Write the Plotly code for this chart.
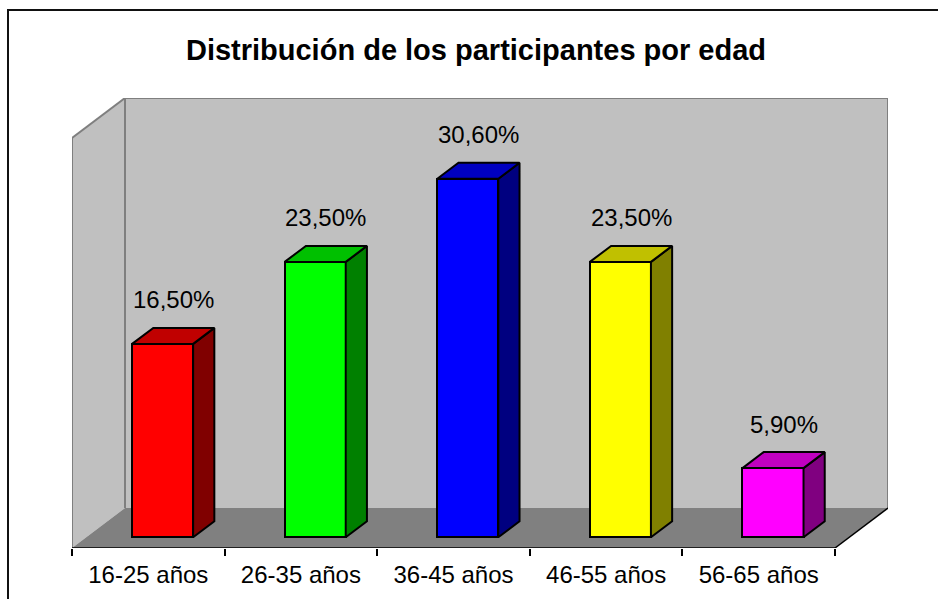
import plotly.graph_objects as go

# ---- data ----
categories = ["16-25 años", "26-35 años", "36-45 años", "46-55 años", "56-65 años"]
values = [16.5, 23.5, 30.6, 23.5, 5.9]
front_colors = ["#FF0000", "#00FF00", "#0000FF", "#FFFF00", "#FF00FF"]
side_colors = ["#800000", "#008000", "#000080", "#808000", "#800080"]
top_colors = ["#C00000", "#00C000", "#0000C0", "#C0C000", "#C000C0"]
title_text = "Distribución de los participantes por edad"

# ---- 3D projection parameters (axis units) ----
YMAX = 35.0          # value-axis maximum
DX = 0.3473          # horizontal shift for full depth (category units)
DY = 3.414           # vertical shift for full depth (value units)
BAR_W = 0.4
F0, F1 = 0.27, 0.67  # bar depth (front / back fraction)
W, H = 938, 599
ML, MR, MT, MB = 72, 50, 98, 51
PW, PH = W - ML - MR, H - MT - MB

FONT = "Liberation Sans, Arial, sans-serif"

fig = go.Figure()

# ---- walls & floor ----
n = len(categories)
x0, x1 = -0.5, n - 0.5
shapes = []
# back wall
shapes.append(dict(type="rect", xref="x", yref="y", x0=x0 + DX, x1=x1 + DX, y0=DY, y1=YMAX + DY,
                   fillcolor="#C0C0C0", line=dict(width=0), layer="below"))
# left wall
shapes.append(dict(type="path", xref="x", yref="y",
                   path=f"M{x0},{0} L{x0 + DX},{DY} L{x0 + DX},{YMAX + DY} L{x0},{YMAX} Z",
                   fillcolor="#C0C0C0", line=dict(width=0), layer="below"))
# floor
shapes.append(dict(type="path", xref="x", yref="y",
                   path=f"M{x0},{0} L{x1},{0} L{x1 + DX},{DY} L{x0 + DX},{DY} Z",
                   fillcolor="#808080", line=dict(width=0), layer="below"))
# wall edges (gray)
gray = "#7F7F7F"
for (a, b, c, d) in [
    (x0, 0, x0, YMAX),
    (x0, YMAX, x0 + DX, YMAX + DY),
    (x0 + DX, YMAX + DY, x1 + DX, YMAX + DY),
    (x1 + DX, YMAX + DY, x1 + DX, DY),
    (x0 + DX, DY, x0 + DX, YMAX + DY),
]:
    shapes.append(dict(type="line", xref="x", yref="y", x0=a, y0=b, x1=c, y1=d,
                       line=dict(color=gray, width=2), layer="below"))
# floor front & right edges (dark)
shapes.append(dict(type="line", xref="x", yref="y", x0=x0, y0=0, x1=x1, y1=0,
                   line=dict(color="#000000", width=1.5)))
shapes.append(dict(type="line", xref="x", yref="y", x0=x1, y0=0, x1=x1 + DX, y1=DY,
                   line=dict(color="#000000", width=1.5)))
# outer chart border
shapes.append(dict(type="rect", xref="paper", yref="paper",
                   x0=(8 - ML) / PW, x1=(W + 10 - ML) / PW,
                   y0=(MT + PH - (H + 10)) / PH, y1=(MT + PH - 10) / PH,
                   line=dict(color="#111111", width=2), fillcolor="rgba(0,0,0,0)"))

# ---- bars ----
bar_x = [i + F0 * DX for i in range(n)]
fig.add_trace(go.Bar(x=bar_x, y=values, base=[F0 * DY] * n, width=BAR_W,
                     marker=dict(color=front_colors, line=dict(color="#000000", width=2)),
                     hoverinfo="skip", showlegend=False))

wd = F1 - F0
for i, v in enumerate(values):
    xl = bar_x[i] - BAR_W / 2
    xr = bar_x[i] + BAR_W / 2
    b = F0 * DY
    t = b + v
    # side face
    fig.add_trace(go.Scatter(
        x=[xr, xr + wd * DX, xr + wd * DX, xr, xr],
        y=[b, b + wd * DY, t + wd * DY, t, b],
        mode="lines", fill="toself", fillcolor=side_colors[i],
        line=dict(color="#000000", width=2), hoverinfo="skip", showlegend=False))
    # top face
    fig.add_trace(go.Scatter(
        x=[xl, xr, xr + wd * DX, xl + wd * DX, xl],
        y=[t, t, t + wd * DY, t + wd * DY, t],
        mode="lines", fill="toself", fillcolor=top_colors[i],
        line=dict(color="#000000", width=2), hoverinfo="skip", showlegend=False))

# ---- data labels ----
annotations = []
for i, v in enumerate(values):
    xl = bar_x[i] - BAR_W / 2
    xr = bar_x[i] + BAR_W / 2
    annotations.append(dict(
        x=(xl + xr + wd * DX) / 2, y=F0 * DY + v + wd * DY,
        xref="x", yref="y", text=f"{v:.2f}".replace(".", ",") + "%",
        showarrow=False, yanchor="middle", yshift=28,
        font=dict(family=FONT, size=24, color="#000000")))

fig.update_layout(
    width=W, height=H,
    margin=dict(l=ML, r=MR, t=MT, b=MB, pad=0),
    paper_bgcolor="#FFFFFF", plot_bgcolor="rgba(0,0,0,0)",
    title=dict(text=f"<b>{title_text}</b>", x=476 / W, xanchor="center",
               y=1 - 50 / H, yanchor="middle", yref="container",
               font=dict(family=FONT, size=29, color="#000000")),
    xaxis=dict(range=[x0, x1 + DX], tickvals=list(range(n)), ticktext=categories,
               ticks="", showgrid=False, zeroline=False, showline=False,
               ticklabelstandoff=10,
               tickfont=dict(family=FONT, size=24, color="#000000"),
               minor=dict(tickvals=[k - 0.5 for k in range(n + 1)], ticks="outside",
                          ticklen=7, tickcolor="#000000", tickwidth=1.5, showgrid=False),
               fixedrange=True),
    yaxis=dict(range=[0, YMAX + DY], showticklabels=False, ticks="", showgrid=False,
               zeroline=False, showline=False, fixedrange=True),
    shapes=shapes, annotations=annotations,
    bargap=0, showlegend=False,
)

fig.write_html("out.html", config={"displayModeBar": False},
               post_script="document.body.style.margin='0';document.body.style.overflow='hidden';")
